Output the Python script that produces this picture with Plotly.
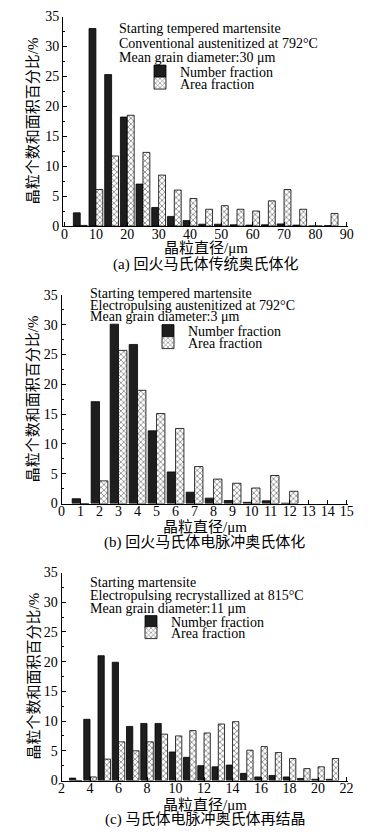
import plotly.graph_objects as go

# ---------------- data ----------------
a_x = [5, 10, 15, 20, 25, 30, 35, 40, 45, 50, 55, 60, 65, 70, 75, 80, 85]
a_number = [2.2, 33.0, 25.3, 18.2, 7.0, 3.1, 1.6, 0.9, 0.3, 0.3, 0.2, 0.15, 0.2, 0.35, 0.15, 0, 0.05]
a_area = [0.1, 6.1, 11.7, 18.5, 12.3, 8.5, 6.0, 4.6, 2.8, 3.4, 2.8, 2.5, 4.2, 6.1, 2.8, 0, 2.1]

b_x = [1, 2, 3, 4, 5, 6, 7, 8, 9, 10, 11, 12]
b_number = [0.8, 17.1, 30.1, 26.7, 12.2, 5.3, 1.9, 0.9, 0.5, 0.2, 0.45, 0.05]
b_area = [0, 3.8, 25.7, 19.0, 15.1, 12.6, 6.2, 4.1, 3.4, 2.6, 4.7, 2.05]

c_x = [3, 4, 5, 6, 7, 8, 9, 10, 11, 12, 13, 14, 15, 16, 17, 18, 19, 20, 21]
c_number = [0.4, 10.3, 21.0, 19.9, 9.1, 9.6, 9.6, 4.8, 3.9, 2.5, 2.3, 2.6, 1.2, 0.6, 0.85, 0.6, 0.35, 0.2, 0.2]
c_area = [0, 0.6, 3.6, 6.5, 5.0, 6.5, 7.8, 7.5, 8.4, 8.0, 9.5, 9.9, 5.1, 5.7, 4.7, 3.7, 2.0, 2.3, 3.7]

y_ticks = [0, 5, 10, 15, 20, 25, 30, 35]
a_xticks = [0, 10, 20, 30, 40, 50, 60, 70, 80, 90]
b_xticks = list(range(0, 16))
c_xticks = [2, 4, 6, 8, 10, 12, 14, 16, 18, 20, 22]

names = ["Number fraction", "Area fraction"]
y_title = "晶粒个数和面积百分比/%"
x_title = "晶粒直径/μm"
captions = ["(a) 回火马氏体传统奥氏体化", "(b) 回火马氏体电脉冲奥氏体化", "(c) 马氏体电脉冲奥氏体再结晶"]
notes = [
    ["Starting tempered martensite", "Conventional austenitized at 792°C", "Mean grain diameter:30 μm"],
    ["Starting tempered martensite", "Electropulsing austenitized at 792°C", "Mean grain diameter:3 μm"],
    ["Starting martensite", "Electropulsing recrystallized at 815°C", "Mean grain diameter:11 μm"],
]

# ---------------- geometry helpers ----------------
W, H = 382, 835
def PX(x):
    return x / W
def PY(y):
    return 1 - y / H

SERIF = "Liberation Serif, Times New Roman, serif"
CJK = "Liberation Serif, Noto Sans CJK SC, serif"
BLACK = "#1e1e1e"

panels = [
    dict(x=a_x, n=a_number, a=a_area, xdom=(63, 348), xr=[-0.5, 90.4], xt=a_xticks,
         ydom=(226, 16.5), note_x=117, note_y=[28, 43, 57], leg_x=140, leg_y=[71.5, 83.5]),
    dict(x=b_x, n=b_number, a=b_area, xdom=(61.5, 348), xr=[0, 15.07], xt=b_xticks,
         ydom=(503.5, 295), note_x=88, note_y=[293.5, 305, 316.5], leg_x=148, leg_y=[331, 343]),
    dict(x=c_x, n=c_number, a=c_area, xdom=(61.5, 348), xr=[2, 22.1], xt=c_xticks,
         ydom=(780.5, 572.5), note_x=88, note_y=[582, 595, 608], leg_x=131, leg_y=[622, 633]),
]
xtitle_y = [248, 527, 805]
caption_y = [264, 542, 819]

fig = go.Figure()
annotations = []
layout = dict(
    width=W, height=H, margin=dict(l=0, r=0, t=0, b=0, autoexpand=False),
    paper_bgcolor="white", plot_bgcolor="white", showlegend=True,
    barmode="group", bargap=0.12, bargroupgap=0,
    font=dict(family=SERIF, size=14, color="black"),
)

for i, p in enumerate(panels):
    k = "" if i == 0 else str(i + 1)
    xa, ya = "x" + k, "y" + k
    leg1 = "legend" + str(2 * i + 1) if i > 0 else "legend"
    leg2 = "legend" + str(2 * i + 2)
    fig.add_trace(go.Bar(x=p["x"], y=p["n"], name=names[0], xaxis=xa, yaxis=ya, showlegend=True,
                         marker=dict(color=BLACK, line=dict(color="black", width=0.8)),
                         legend=leg1, offsetgroup="n"))
    fig.add_trace(go.Bar(x=p["x"], y=p["a"], name=names[1], xaxis=xa, yaxis=ya, showlegend=True,
                         marker=dict(color="white", line=dict(color="black", width=0.8),
                                     pattern=dict(shape="x", size=4, solidity=0.4,
                                                  fgcolor="#222", bgcolor="white")),
                         legend=leg2, offsetgroup="a"))
    axis_common = dict(showline=True, linecolor="black", linewidth=1, showgrid=False,
                       zeroline=False, ticks="inside", ticklen=4, tickcolor="black",
                       automargin=False,
                       tickfont=dict(family=SERIF, size=14, color="black"))
    layout["xaxis" + k] = dict(axis_common, domain=[PX(p["xdom"][0]), PX(p["xdom"][1])],
                               range=p["xr"], tickvals=p["xt"], anchor=ya, fixedrange=True,
                               ticklabelstandoff=-5)
    layout["yaxis" + k] = dict(axis_common, domain=[PY(p["ydom"][0]), PY(p["ydom"][1])],
                               range=[0, 35], tickvals=y_ticks, anchor=xa,
                               minor=dict(dtick=2.5, ticks="inside", ticklen=2, tickcolor="black"))
    for j, line in enumerate(notes[i]):
        annotations.append(dict(xref="paper", yref="paper", x=PX(p["note_x"]), y=PY(p["note_y"][j]),
                                xanchor="left", yanchor="middle", text=line, showarrow=False,
                                font=dict(family=SERIF, size=14, color="black")))
    for j, lg in enumerate([leg1, leg2]):
        layout[lg] = dict(x=PX(p["leg_x"]), y=PY(p["leg_y"][j]), xanchor="left", yanchor="middle",
                          bgcolor="rgba(0,0,0,0)", borderwidth=0, visible=True,
                          font=dict(family=SERIF, size=14, color="black"),
                          itemclick=False, itemdoubleclick=False)
    # axis titles and captions
    cx = PX((p["xdom"][0] + p["xdom"][1]) / 2)
    annotations.append(dict(xref="paper", yref="paper", x=cx, y=PY(xtitle_y[i]),
                            xanchor="center", yanchor="middle", text=x_title, showarrow=False,
                            font=dict(family=CJK, size=15, color="black")))
    annotations.append(dict(xref="paper", yref="paper", x=cx, y=PY(caption_y[i]),
                            xanchor="center", yanchor="middle", text=captions[i], showarrow=False,
                            font=dict(family=CJK, size=15, color="black")))
    cy = PY((p["ydom"][0] + p["ydom"][1]) / 2)
    annotations.append(dict(xref="paper", yref="paper", x=PX(33), y=cy,
                            xanchor="center", yanchor="middle", text=y_title, showarrow=False,
                            textangle=-90, font=dict(family=CJK, size=15, color="black")))

layout["annotations"] = annotations
fig.update_layout(**layout)
fig.write_html("out.html", config=dict(displayModeBar=False),
               post_script="document.body.style.margin='0';document.body.style.overflow='hidden';")
